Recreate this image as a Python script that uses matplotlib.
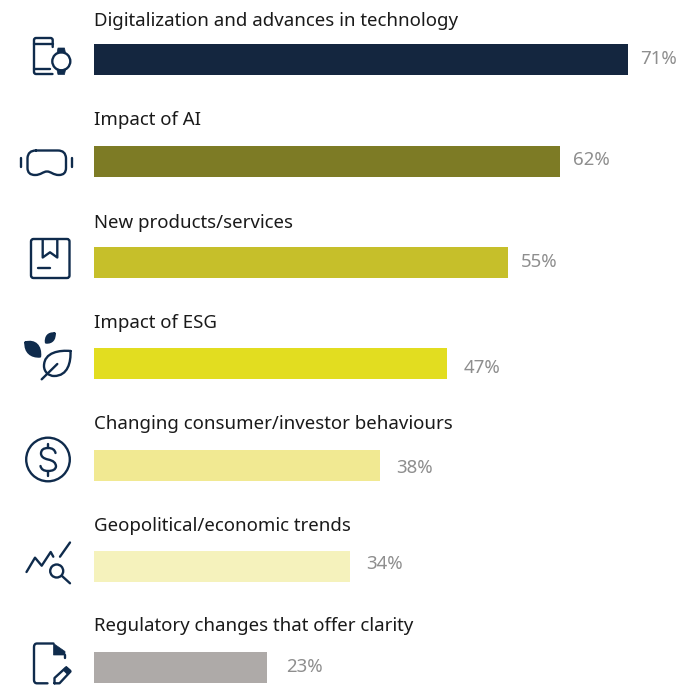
import matplotlib
matplotlib.use("Agg")
import matplotlib.pyplot as plt
from matplotlib.patches import Circle, FancyBboxPatch, Polygon, PathPatch
from matplotlib.path import Path

plt.rcParams["font.family"] = ["Noto Sans", "DejaVu Sans"]

categories = [
    "Digitalization and advances in technology",
    "Impact of AI",
    "New products/services",
    "Impact of ESG",
    "Changing consumer/investor behaviours",
    "Geopolitical/economic trends",
    "Regulatory changes that offer clarity",
]
values = [71, 62, 55, 47, 38, 34, 23]
bar_colors = ["#14263f", "#7d7b25", "#c6bf2a", "#e2dd20", "#f1e992", "#f5f2bc", "#aeaaa8"]
# the value labels sit at uneven distances from the bars in the original
label_offsets = [12, 13, 13, 16, 16, 17, 19]
label_shifts = [-1, -1, 0, 5, 3, -2, 0]
title_y = [21, 120, 223, 323, 424, 526, 626]

W, H = 680, 685
ICON = "#0f2b4c"
LW = 1.7

fig = plt.figure(figsize=(W / 100, H / 100), dpi=100)

# bars: 7.52 px per percentage point, rows 101.33 px apart
ax = fig.add_axes([94 / W, 0, (W - 94) / W, 1])
ax.set_xlim(0, (W - 94) / 7.52)
top = -59.7 / 101.33
ax.set_ylim(top + H / 101.33, top)
ax.axis("off")
ax.barh(range(len(values)), values, height=31 / 101.33, color=bar_colors)

# overlay in pixel coordinates for texts and icons
ov = fig.add_axes([0, 0, 1, 1])
ov.set_xlim(0, W)
ov.set_ylim(H, 0)
ov.axis("off")
ov.patch.set_alpha(0)

for i, v in enumerate(values):
    y = 59.5 + i * 101.33
    ov.text(94, title_y[i], categories[i], fontsize=13.45, color="#1a1a1a", va="center", ha="left")
    ov.text(94 + v * 7.52 + label_offsets[i], y + label_shifts[i], f"{v}%", fontsize=13.45,
            color="#8e8e8e", va="center", ha="left")


def line(pts, **kw):
    xs, ys = zip(*pts)
    ov.plot(xs, ys, color=ICON, lw=kw.pop("lw", LW), solid_capstyle="round",
            solid_joinstyle="round", **kw)


def curve(verts, codes, fill=False):
    ov.add_patch(PathPatch(Path(verts, codes), fc=ICON if fill else "none", ec=ICON,
                           lw=LW, capstyle="round", joinstyle="round"))


M, L, C3, C4 = Path.MOVETO, Path.LINETO, Path.CURVE3, Path.CURVE4

# phone and watch
curve([(52.7, 47), (52.7, 40), (52.7, 38), (50.5, 38), (36, 38), (34, 38), (34, 40), (34, 72), (34, 74), (36, 74), (52.5, 74)],
      [M, L, C3, C3, L, C3, C3, L, C3, C3, L])
line([(34, 43.5), (52.7, 43.5)])
line([(34, 69), (50, 69)])
ov.add_patch(Circle((61.3, 61.3), 9, fc="none", ec=ICON, lw=LW))
ov.add_patch(Polygon([(58, 48), (64.5, 48), (65.5, 53), (57, 53)], fc=ICON, ec=ICON, lw=0.5))
ov.add_patch(Polygon([(57, 70), (65.5, 70), (64.5, 74.5), (58, 74.5)], fc=ICON, ec=ICON, lw=0.5))

# VR headset
curve([(36, 150.5), (28, 150.5), (27.5, 158), (27.5, 168), (27.5, 175), (35, 175), (41, 175), (43, 171.5), (47, 171.5),
       (51, 171.5), (53, 175), (59, 175), (66, 175), (66, 168), (66, 158), (65.5, 150.5), (58, 150.5), (36, 150.5)],
      [M, C3, C3, L, C3, C3, C4, C4, C4, C4, C4, C4, C3, C3, L, C3, C3, L])
line([(21.3, 158), (21.3, 167)])
line([(72.3, 158), (72.3, 167)])

# box
ov.add_patch(FancyBboxPatch((33, 241), 34.5, 35, boxstyle="round,pad=2,rounding_size=2.5", fc="none", ec=ICON, lw=LW))
line([(42.7, 239.5), (42.7, 257.5), (50, 252.3), (57.3, 257.5), (57.3, 239.5)])
line([(38, 268.3), (49.5, 268.3)])

# leaves
curve([(70.5, 351), (60, 350), (44, 352), (44, 366), (44, 372), (49, 376), (54, 376), (68, 376), (71, 362), (70.5, 351)],
      [M, C4, C4, C4, C4, C4, C4, C4, C4, C4])
line([(41.7, 379.3), (57.3, 364)])
curve([(25.5, 342.5), (35, 340), (41, 346), (40, 356.5), (31, 357), (25, 352), (25.5, 342.5)],
      [M, C4, C4, C4, C4, C4, C4], fill=True)
curve([(54.5, 333.5), (48, 333), (45.5, 337), (46, 342.5), (52, 343), (55, 339), (54.5, 333.5)],
      [M, C4, C4, C4, C4, C4, C4], fill=True)

# dollar coin
ov.add_patch(Circle((48, 459.5), 21.8, fc="none", ec=ICON, lw=LW))
curve([(55.5, 453), (54.5, 448), (48, 448), (41, 448), (41, 453.5), (41, 458), (48, 459.5), (56, 461), (56, 466.5),
       (55.5, 471), (48, 471), (41.5, 471), (40.5, 466)],
      [M, C3, C3, C3, C3, C3, C3, C3, C3, C3, C3, C3, C3])
line([(48, 443.5), (48, 448)])
line([(48, 471), (48, 475.5)])

# chart and magnifier
line([(26.5, 572), (35, 557.7), (41.7, 565.7), (50.7, 552), (53.3, 556.7)])
line([(60, 556.7), (70, 542.5)])
ov.add_patch(Circle((56.7, 571), 6.5, fc="none", ec=ICON, lw=LW))
line([(62, 576), (70, 583.3)])

# document and pencil
curve([(53.5, 643.5), (37, 643.5), (34, 643.5), (34, 647), (34, 680), (34, 683.3), (37, 683.3), (47.5, 683.3)],
      [M, L, C3, C3, L, C3, C3, L])
ov.add_patch(Polygon([(53.5, 643.5), (65, 651.5), (65, 655), (53.5, 655)], fc=ICON, ec=ICON, lw=0.5))
line([(65, 655), (65, 658)])
line([(54.5, 683.3), (54.5, 678), (66, 667.5), (70.5, 671.5), (59.5, 683.3), (54.5, 683.3)])
ov.add_patch(Polygon([(63, 670), (66.5, 666.5), (71, 670.5), (67.5, 674.5)], fc=ICON, ec=ICON, lw=0.5))

fig.savefig("out.png", dpi=100, facecolor="white")
